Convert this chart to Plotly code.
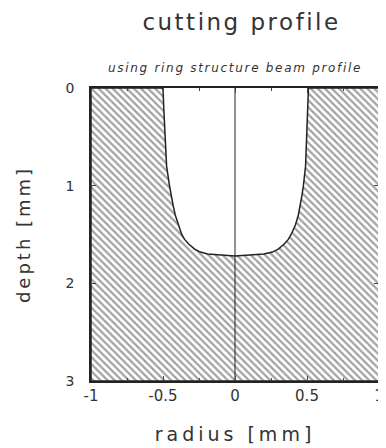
import plotly.graph_objects as go

# half-profile of the cut (depth in mm vs radius in mm)
depth = [0.0, 0.2, 0.4, 0.6, 0.8, 1.0, 1.1, 1.2, 1.3, 1.4, 1.5, 1.55, 1.6, 1.65, 1.68, 1.70, 1.71, 1.72]
radius_right = [0.51, 0.505, 0.50, 0.495, 0.49, 0.475, 0.465, 0.455, 0.44, 0.42, 0.39, 0.37, 0.34, 0.30, 0.26, 0.20, 0.10, 0.0]
radius_left = [-0.50, -0.495, -0.49, -0.485, -0.475, -0.455, -0.445, -0.43, -0.415, -0.395, -0.37, -0.35, -0.32, -0.28, -0.24, -0.19, -0.10, 0.0]

x_range = [-1, 1]
y_range = [0, 3]
x_ticks = [-1, -0.5, 0, 0.5, 1]
x_ticklabels = ["-1", "-0.5", "0", "0.5", "1"]
y_ticks = [0, 1, 2, 3]

# hatched material region: box minus cavity
px = [x_range[0]] + radius_left + radius_right[::-1] + [x_range[1], x_range[1], x_range[0], x_range[0]]
py = [y_range[0]] + depth + depth[::-1] + [y_range[0], y_range[1], y_range[1], y_range[0]]

fig = go.Figure()
fig.add_trace(go.Scatter(
    x=px, y=py, mode="lines", fill="toself",
    fillcolor="rgba(0,0,0,0)",
    fillpattern=dict(shape="\\", fgcolor="#444444", bgcolor="white", size=5, solidity=0.45),
    line=dict(color="#222222", width=1.5), hoverinfo="skip", showlegend=False))
fig.add_trace(go.Scatter(
    x=[0, 0], y=y_range, mode="lines", line=dict(color="#222222", width=1),
    hoverinfo="skip", showlegend=False))

font = "DejaVu Sans"
def spaced(t, s):
    return '<span style="letter-spacing:%spx">%s</span>' % (s, t)

fig.update_layout(
    width=386, height=448,
    margin=dict(l=83, r=10, t=80, b=75),
    paper_bgcolor="white", plot_bgcolor="white",
    font=dict(family=font, color="#333333", size=14),
    title=dict(text=spaced("cutting profile", 2.5), x=0.605, xanchor="center", y=0.968, yanchor="middle",
               font=dict(size=23, color="#333333", family=font)),
    xaxis=dict(range=x_range, tickvals=x_ticks, ticktext=x_ticklabels,
               ticks="inside", ticklen=5, ticklabeloverflow="allow",
               showgrid=False, zeroline=False, showline=True, linecolor="#222222", linewidth=1.5,
               mirror="ticks", minor=dict(ticks="inside", ticklen=3, dtick=0.25),
               tickfont=dict(size=15),
               title=dict(text=spaced("radius [mm]", 4), font=dict(size=19), standoff=24)),
    yaxis=dict(range=[y_range[1], y_range[0]], tickvals=y_ticks, ticks="inside", ticklen=5,
               showgrid=False, zeroline=False, showline=True, linecolor="#222222", linewidth=1.5,
               mirror="ticks", tickfont=dict(size=14), ticklabelstandoff=12,
               title=dict(text=spaced("depth [mm]", 3), font=dict(size=18), standoff=30)),
    annotations=[dict(text="<i>" + spaced("using ring structure beam profile", 1.7) + "</i>", x=0.5, y=1.0, xref="paper",
                      yref="paper", yanchor="bottom", yshift=11, showarrow=False,
                      font=dict(size=12, color="#333333"))],
)
fig.write_html("out.html")
